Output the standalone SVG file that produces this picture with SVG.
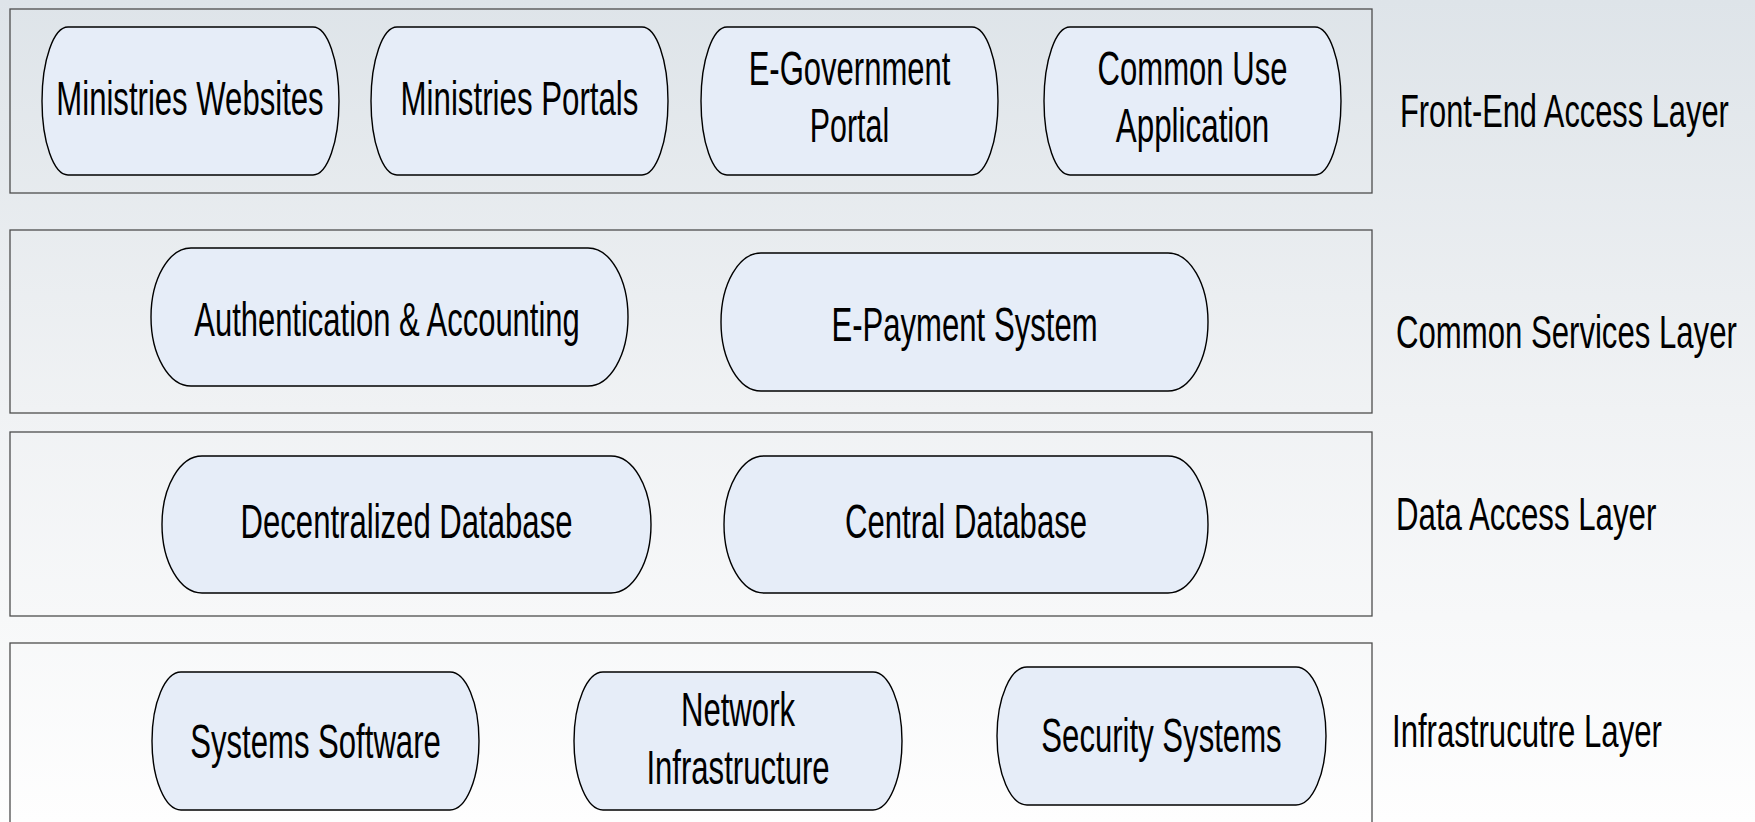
<svg xmlns="http://www.w3.org/2000/svg" width="1755" height="822" viewBox="0 0 1755 822">
<defs>
<linearGradient id="bg" x1="0" y1="0" x2="0" y2="1">
<stop offset="0" stop-color="#dee4e9"/>
<stop offset="0.5" stop-color="#f0f2f4"/>
<stop offset="1" stop-color="#fefefe"/>
</linearGradient>
</defs>
<style>
.layer{fill:none;stroke:#4d4d4d;stroke-width:1.3}
.node{fill:#e6edf8;stroke:#000;stroke-width:1.4}
.t{font-family:"Liberation Sans",Arial,sans-serif;font-size:49px;fill:#000;text-anchor:middle}
.lbl{font-family:"Liberation Sans",Arial,sans-serif;font-size:46px;fill:#000}
</style>
<rect x="0" y="0" width="1755" height="822" fill="url(#bg)"/>
<g id="layers">
<g id="layer-frontend"><rect class="layer" x="10" y="9" width="1362" height="184"/><text class="lbl" transform="translate(1400 127) scale(0.67 1)">Front-End Access Layer</text></g>
<g id="layer-common"><rect class="layer" x="10" y="230" width="1362" height="183"/><text class="lbl" transform="translate(1396 348) scale(0.677 1)">Common Services Layer</text></g>
<g id="layer-data"><rect class="layer" x="10" y="432" width="1362" height="184"/><text class="lbl" transform="translate(1396 530) scale(0.679 1)">Data Access Layer</text></g>
<g id="layer-infra"><rect class="layer" x="10" y="643" width="1362" height="184"/><text class="lbl" transform="translate(1392 747) scale(0.677 1)">Infrastrucutre Layer</text></g>
</g>
<g id="connectors"></g>
<g id="node-ministries-websites"><rect class="node" x="42" y="27" width="297" height="148" rx="26" ry="74"/><text class="t" transform="translate(190 115) scale(0.635 1)">Ministries Websites</text></g>
<g id="node-ministries-portals"><rect class="node" x="371" y="27" width="297" height="148" rx="26" ry="74"/><text class="t" transform="translate(519.5 115) scale(0.638 1)">Ministries Portals</text></g>
<g id="node-egov-portal"><rect class="node" x="701" y="27" width="297" height="148" rx="26" ry="74"/><text class="t" transform="translate(849.5 85) scale(0.633 1)">E-Government</text><text class="t" transform="translate(849.5 142) scale(0.62 1)">Portal</text></g>
<g id="node-common-use"><rect class="node" x="1044" y="27" width="297" height="148" rx="26" ry="74"/><text class="t" transform="translate(1192.5 85) scale(0.634 1)">Common Use</text><text class="t" transform="translate(1192.5 142) scale(0.64 1)">Application</text></g>
<g id="node-auth"><rect class="node" x="151" y="248" width="477" height="138" rx="40" ry="69"/><text class="t" transform="translate(387 336) scale(0.632 1)">Authentication &amp; Accounting</text></g>
<g id="node-epayment"><rect class="node" x="721" y="253" width="487" height="138" rx="40" ry="69"/><text class="t" transform="translate(964.5 341) scale(0.635 1)">E-Payment System</text></g>
<g id="node-decentralized-db"><rect class="node" x="162" y="456" width="489" height="137" rx="40" ry="68.5"/><text class="t" transform="translate(406.5 538) scale(0.635 1)">Decentralized Database</text></g>
<g id="node-central-db"><rect class="node" x="724" y="456" width="484" height="137" rx="40" ry="68.5"/><text class="t" transform="translate(966 538) scale(0.635 1)">Central Database</text></g>
<g id="node-systems-software"><rect class="node" x="152" y="672" width="327" height="138" rx="29" ry="69"/><text class="t" transform="translate(315.5 758) scale(0.635 1)">Systems Software</text></g>
<g id="node-network-infra"><rect class="node" x="574" y="672" width="328" height="138" rx="29" ry="69"/><text class="t" transform="translate(738 726) scale(0.635 1)">Network</text><text class="t" transform="translate(738 784) scale(0.635 1)">Infrastructure</text></g>
<g id="node-security-systems"><rect class="node" x="997" y="667" width="329" height="138" rx="30" ry="69"/><text class="t" transform="translate(1161.5 752) scale(0.635 1)">Security Systems</text></g>
</svg>
